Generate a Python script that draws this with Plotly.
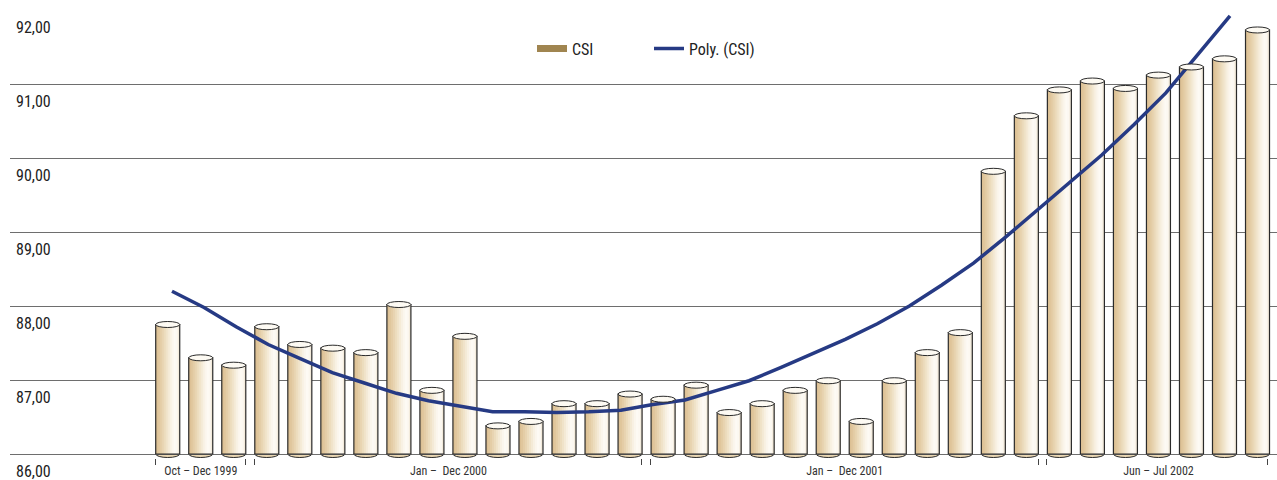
import plotly.graph_objects as go

# ---------------- data ----------------
group_labels = ["Oct \u2013 Dec 1999", "Jan \u2013  Dec 2000", "Jan \u2013  Dec 2001", "Jun \u2013 Jul 2002"]
group_sizes = [3, 12, 12, 7]

csi = [87.75, 87.30, 87.20, 87.72, 87.48, 87.43, 87.37, 88.02, 86.86, 87.59,
       86.38, 86.44, 86.68, 86.68, 86.81, 86.74, 86.93, 86.56, 86.68, 86.86,
       86.99, 86.44, 86.99, 87.37, 87.64, 89.82, 90.57, 90.92, 91.04, 90.94,
       91.12, 91.23, 91.34, 91.73]

poly_csi = [88.20, 87.98, 87.72, 87.48, 87.29, 87.10, 86.96, 86.82, 86.72, 86.64,
            86.57, 86.57, 86.56, 86.57, 86.59, 86.67, 86.73, 86.86, 86.99, 87.17,
            87.36, 87.55, 87.76, 88.00, 88.28, 88.58, 88.93, 89.30, 89.66, 90.04,
            90.45, 90.88, 91.40, 91.92]

y_ticks = [86, 87, 88, 89, 90, 91, 92]
BASE = 86

# ---------------- style ----------------
FONT = "Roboto Condensed, Liberation Sans Narrow, Roboto, sans-serif"
W = 0.727
grad = ["#dcc094", "#e0c69c", "#e4cda6", "#e8d4b1", "#ecdcbd", "#f0e3c9",
        "#f4ead6", "#f8f1e3", "#fbf6ed", "#fdfaf4", "#fcf8f1", "#f3ebdc"]

idx = list(range(len(csi)))
lengths = [v - BASE for v in csi]

fig = go.Figure()

# legend key for the bars (wide flat swatch, no marks of its own)
fig.add_trace(go.Scatter(x=[None], y=[None], mode="lines", name="CSI",
                         line=dict(color="#a08550", width=7), hoverinfo="skip"))

N = len(grad)
for k, c in enumerate(grad):
    fig.add_trace(go.Bar(x=idx, y=lengths, base=BASE,
                         offset=-W / 2 + k * W / N, width=W - k * W / N,
                         marker=dict(color=c, line=dict(width=0)),
                         showlegend=False, hoverinfo="skip"))
# outline
fig.add_trace(go.Bar(x=idx, y=lengths, base=BASE, width=W, name="CSI",
                     marker=dict(color="rgba(0,0,0,0)", line=dict(color="#2a2a2a", width=1.2)),
                     showlegend=False, customdata=csi,
                     hovertemplate="%{customdata:.2f}<extra>CSI</extra>"))

# trend line on its own overlaying x axis (back-plane scale)
fig.add_trace(go.Scatter(x=idx, y=poly_csi, mode="lines", name="Poly. (CSI)",
                         xaxis="x2", line=dict(color="#263a84", width=3.5)))

# cylinder caps
shapes = []
for i, v in enumerate(csi):
    shapes.append(dict(type="circle", xref="x", yref="y", xsizemode="scaled",
                       ysizemode="pixel", yanchor=v, x0=i - W / 2, x1=i + W / 2,
                       y0=-3, y1=3, fillcolor="#fdfaf3",
                       line=dict(color="#2a2a2a", width=1), layer="above"))
    shapes.append(dict(type="circle", xref="x", yref="y", xsizemode="scaled",
                       ysizemode="pixel", yanchor=BASE, x0=i - W / 2, x1=i + W / 2,
                       y0=-3.5, y1=3.5, fillcolor="#ead7b3",
                       line=dict(color="#2a2a2a", width=1), layer="below"))

# group centres and boundaries
centers, bounds = [], []
start = 0
for s in group_sizes:
    centers.append(start + (s - 1) / 2)
    start += s
    bounds.append(start - 0.5)
minor_vals = [-0.5 + 0.12]
for b in bounds[:-1]:
    minor_vals += [b - 0.14, b + 0.12]
minor_vals.append(bounds[-1] - 0.2)

fig.update_layout(
    width=1277, height=480,
    margin=dict(l=10, r=0, t=9, b=22, autoexpand=False),
    paper_bgcolor="white", plot_bgcolor="white",
    separators=",.",
    barmode="overlay",
    font=dict(family=FONT, color="#222222"),
    shapes=shapes,
    showlegend=True,
    legend=dict(orientation="h", x=0.412, xanchor="left", y=0.912, yanchor="middle",
                font=dict(size=16, family=FONT, color="#222222"),
                bgcolor="rgba(0,0,0,0)", entrywidth=72, traceorder="normal"),
    xaxis=dict(range=[-4.776, 33.59], showgrid=False, zeroline=False, showline=False,
               automargin=False,
               tickmode="array", tickvals=centers, ticktext=group_labels, ticks="",
               ticklabelstandoff=4,
               tickfont=dict(size=12, color="#333333", family=FONT),
               minor=dict(tickmode="array", tickvals=minor_vals, ticks="outside",
                          ticklen=6, tickwidth=1, tickcolor="#444444", showgrid=False)),
    xaxis2=dict(range=[-5.053, 34.466], overlaying="x", visible=False),
    yaxis=dict(range=[85.946, 92.0135], tickmode="array", tickvals=y_ticks,
               tickformat=".2f", showgrid=True, gridcolor="#6e6e6e", gridwidth=1.3,
               zeroline=False, showline=False, ticks="", automargin=False,
               ticklabelposition="inside", ticklabeloverflow="allow",
               ticklabelshift=17, ticklabelstandoff=3,
               tickfont=dict(size=16, color="#222222", family=FONT)),
)

fig.write_html("out.html")
